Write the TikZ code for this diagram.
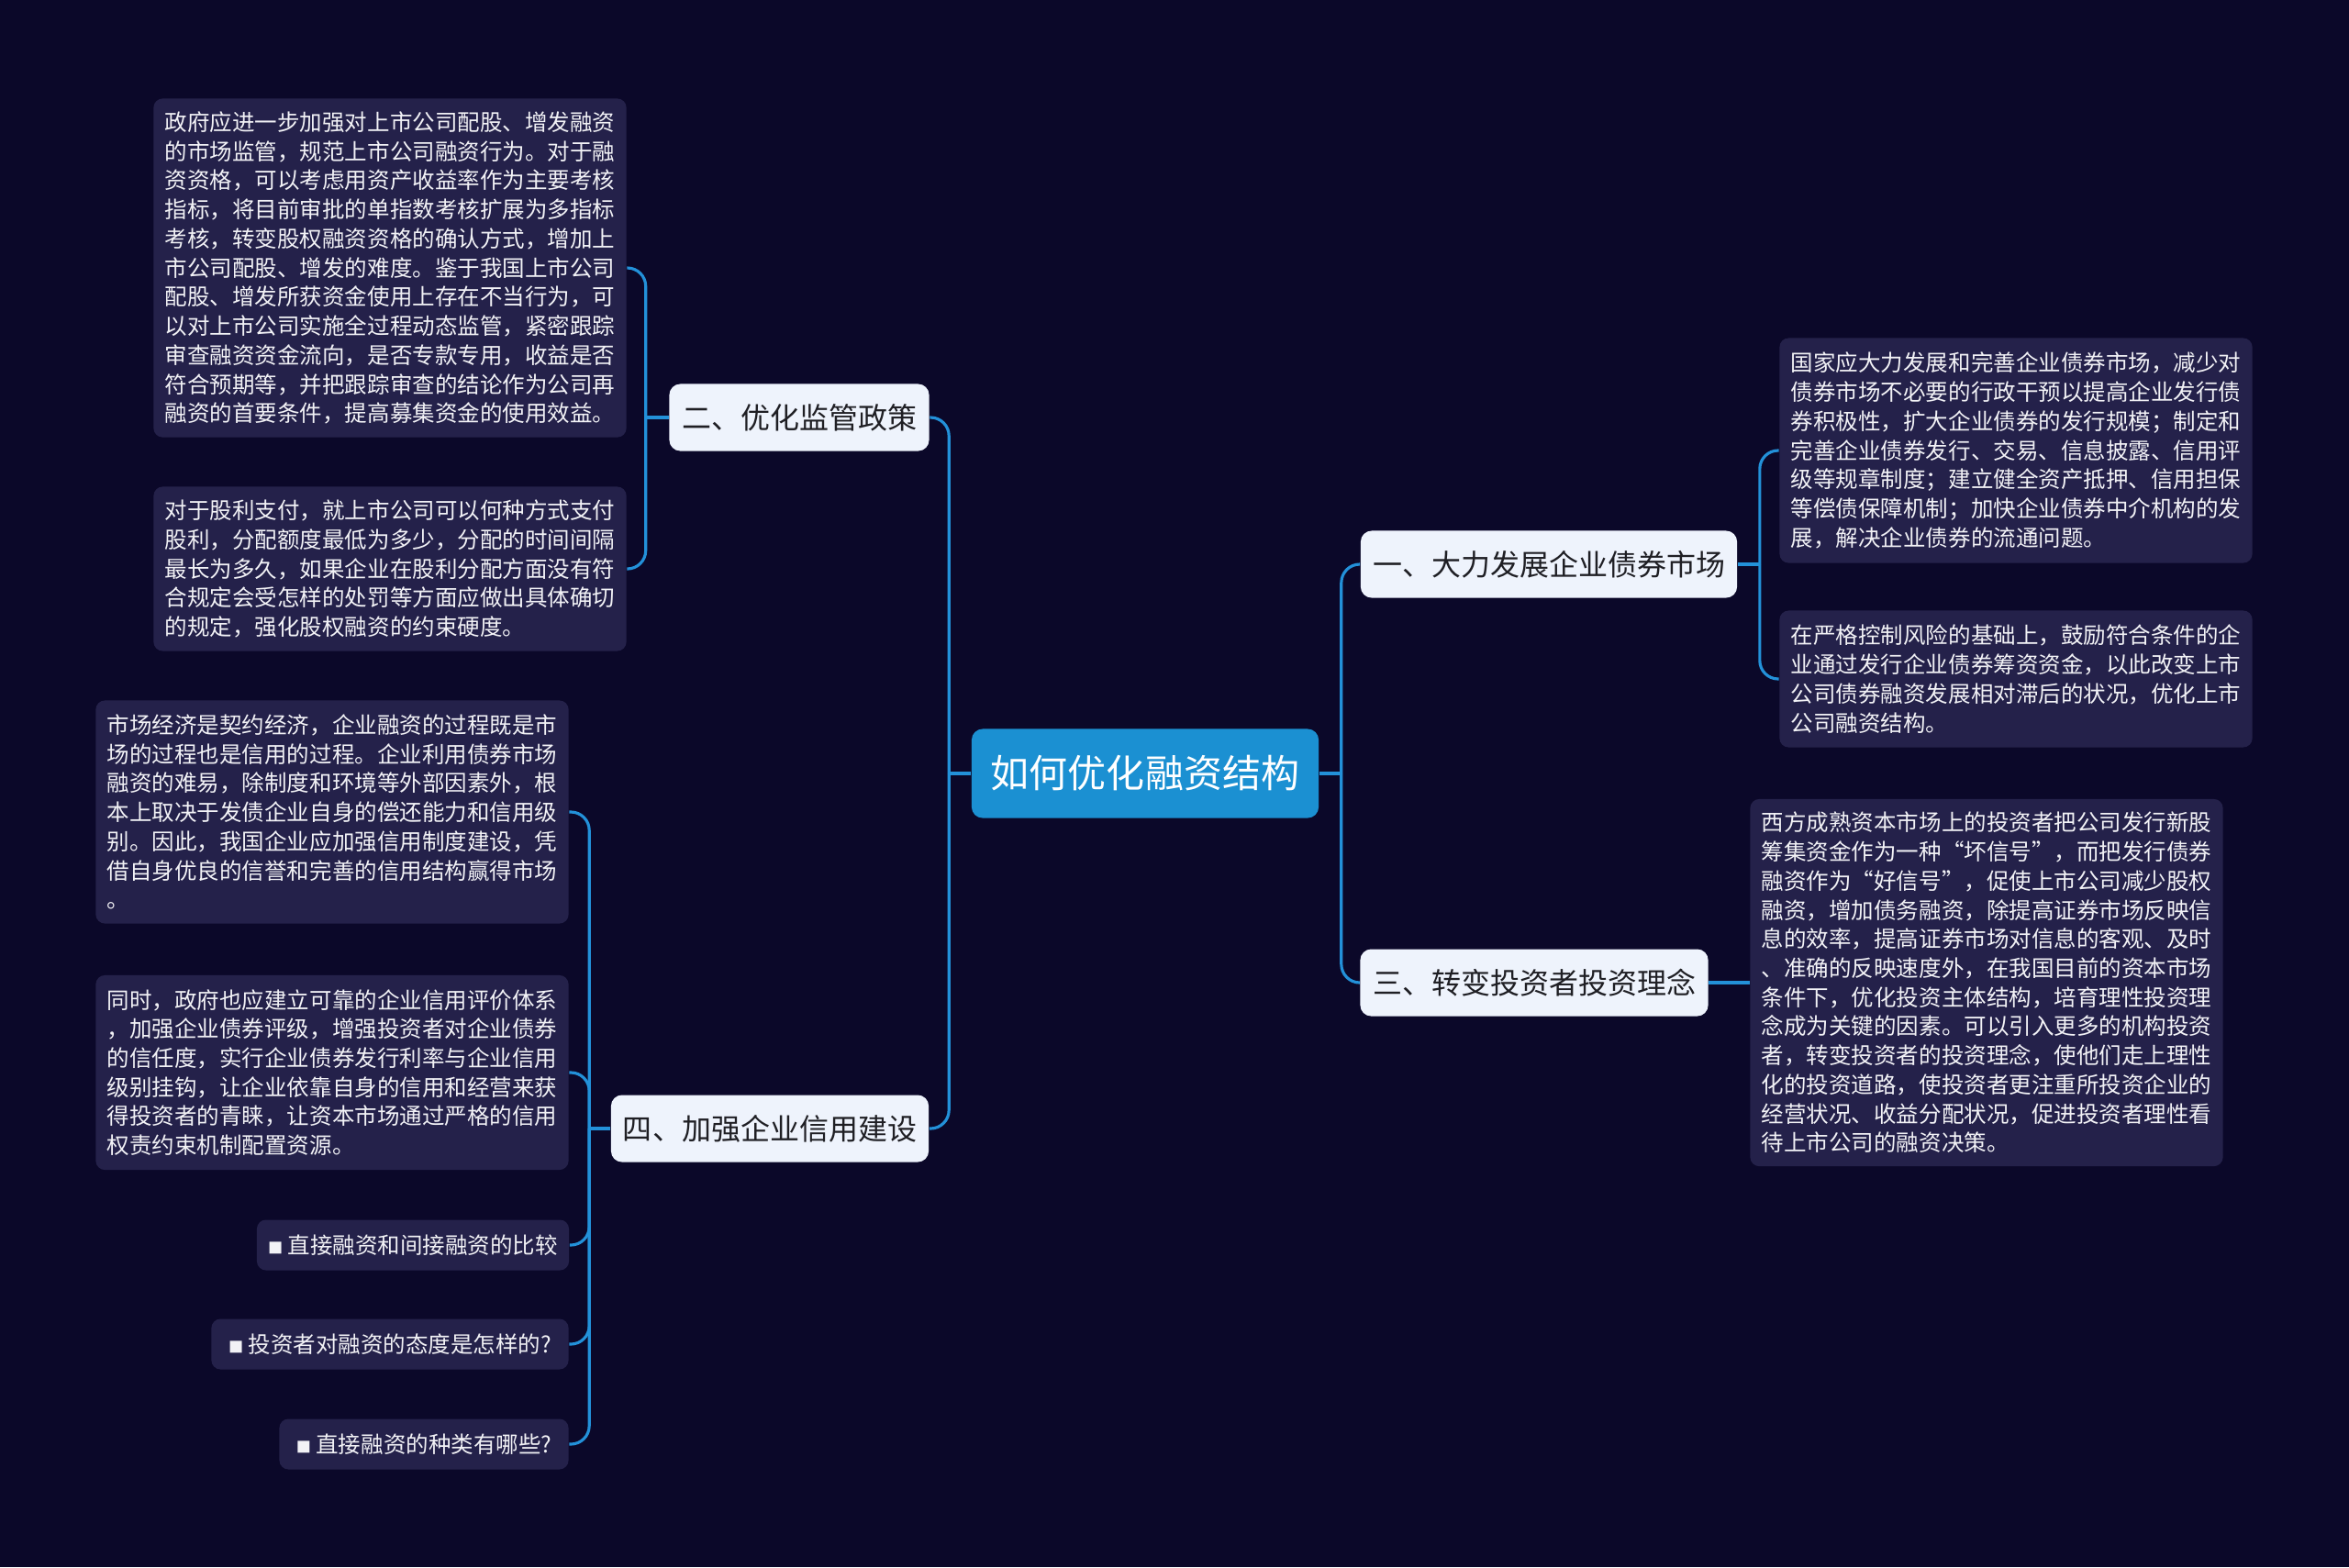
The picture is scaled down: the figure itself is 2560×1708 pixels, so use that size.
\documentclass[tikz,border=0pt]{standalone}
\usepackage{fontspec}
\usetikzlibrary{calc}
\newfontfamily\cjk{Noto Sans CJK SC}
\definecolor{bgnavy}{HTML}{0B0829}
\definecolor{leafcol}{HTML}{24214A}
\definecolor{leaftext}{HTML}{F2F2F6}
\definecolor{branchcol}{HTML}{EEF3FC}
\definecolor{branchtext}{HTML}{1F1F24}
\definecolor{hubcol}{HTML}{1B90D2}
\definecolor{linkcol}{HTML}{2391D9}
\tikzset{
  hub/.style={fill=hubcol, text=white, rounded corners=0.12cm, inner sep=0pt,
    minimum width=3.78cm, minimum height=0.97cm,
    font=\cjk\fontsize{11.95pt}{13pt}\selectfont},
  branchbox/.style={fill=branchcol, text=branchtext, rounded corners=0.12cm, inner sep=0pt,
    minimum height=0.73cm, font=\cjk\fontsize{9.1pt}{10pt}\selectfont},
  leafbox/.style={fill=leafcol, text=leaftext, rounded corners=0.1cm, inner sep=0pt,
    align=left, minimum width=5.15cm, font=\cjk\fontsize{6.97pt}{9.02pt}\selectfont},
  qbox/.style={fill=leafcol, text=leaftext, rounded corners=0.1cm, inner sep=0pt,
    minimum height=0.55cm, font=\cjk\fontsize{6.97pt}{9.02pt}\selectfont},
  linkline/.style={draw=linkcol, line width=0.9pt, rounded corners=0.2cm}
}
\newcommand{\qmark}{{\fontsize{4.6pt}{4.6pt}\selectfont ■}}

\begin{document}
\begin{tikzpicture}[x=0.01cm,y=-0.01cm]
\useasboundingbox (0,0) rectangle (2560,1708);
\fill[bgnavy] (0,0) rectangle (2560,1708);%background

% hub and branches
\node[hub] (c) at (1248,843) {如何优化融资结构};
\node[branchbox, minimum width=2.83cm] (b2) at (871,455) {二、优化监管政策};
\node[branchbox, minimum width=3.46cm] (b4) at (839,1230) {四、加强企业信用建设};
\node[branchbox, minimum width=4.10cm] (b1) at (1688,615) {一、大力发展企业债券市场};
\node[branchbox, minimum width=3.79cm] (b3) at (1672,1071) {三、转变投资者投资理念};

% leaves of b2
\node[leafbox, minimum height=3.69cm] (la) at (425,292) {政府应进一步加强对上市公司配股、增发融资\\
的市场监管，规范上市公司融资行为。对于融\\
资资格，可以考虑用资产收益率作为主要考核\\
指标，将目前审批的单指数考核扩展为多指标\\
考核，转变股权融资资格的确认方式，增加上\\
市公司配股、增发的难度。鉴于我国上市公司\\
配股、增发所获资金使用上存在不当行为，可\\
以对上市公司实施全过程动态监管，紧密跟踪\\
审查融资资金流向，是否专款专用，收益是否\\
符合预期等，并把跟踪审查的结论作为公司再\\
融资的首要条件，提高募集资金的使用效益。};
\node[leafbox, minimum height=1.79cm] (lb) at (425,620) {对于股利支付，就上市公司可以何种方式支付\\
股利，分配额度最低为多少，分配的时间间隔\\
最长为多久，如果企业在股利分配方面没有符\\
合规定会受怎样的处罚等方面应做出具体确切\\
的规定，强化股权融资的约束硬度。};

% leaves of b4
\node[leafbox, minimum height=2.43cm] (lc) at (362,885) {市场经济是契约经济，企业融资的过程既是市\\
场的过程也是信用的过程。企业利用债券市场\\
融资的难易，除制度和环境等外部因素外，根\\
本上取决于发债企业自身的偿还能力和信用级\\
别。因此，我国企业应加强信用制度建设，凭\\
借自身优良的信誉和完善的信用结构赢得市场\\
。};
\node[leafbox, minimum height=2.12cm] (ld) at (362,1169) {同时，政府也应建立可靠的企业信用评价体系\\
，加强企业债券评级，增强投资者对企业债券\\
的信任度，实行企业债券发行利率与企业信用\\
级别挂钩，让企业依靠自身的信用和经营来获\\
得投资者的青睐，让资本市场通过严格的信用\\
权责约束机制配置资源。};
\node[qbox, minimum width=3.40cm] (le) at (450,1357) {\qmark\ 直接融资和间接融资的比较};
\node[qbox, minimum width=3.89cm] (lf) at (425,1465) {\qmark\ 投资者对融资的态度是怎样的?};
\node[qbox, minimum width=3.15cm] (lg) at (462,1574) {\qmark\ 直接融资的种类有哪些?};

% leaves of b1 and b3
\node[leafbox, minimum height=2.45cm] (lh) at (2197,491) {国家应大力发展和完善企业债券市场，减少对\\
债券市场不必要的行政干预以提高企业发行债\\
券积极性，扩大企业债券的发行规模；制定和\\
完善企业债券发行、交易、信息披露、信用评\\
级等规章制度；建立健全资产抵押、信用担保\\
等偿债保障机制；加快企业债券中介机构的发\\
展，解决企业债券的流通问题。};
\node[leafbox, minimum height=1.49cm] (li) at (2197,740) {在严格控制风险的基础上，鼓励符合条件的企\\
业通过发行企业债券筹资资金，以此改变上市\\
公司债券融资发展相对滞后的状况，优化上市\\
公司融资结构。};
\node[leafbox, minimum height=4.00cm] (lj) at (2165,1071) {西方成熟资本市场上的投资者把公司发行新股\\
筹集资金作为一种“坏信号”，而把发行债券\\
融资作为“好信号”，促使上市公司减少股权\\
融资，增加债务融资，除提高证券市场反映信\\
息的效率，提高证券市场对信息的客观、及时\\
、准确的反映速度外，在我国目前的资本市场\\
条件下，优化投资主体结构，培育理性投资理\\
念成为关键的因素。可以引入更多的机构投资\\
者，转变投资者的投资理念，使他们走上理性\\
化的投资道路，使投资者更注重所投资企业的\\
经营状况、收益分配状况，促进投资者理性看\\
待上市公司的融资决策。};

% joints
\coordinate (jl) at ($(c.west)+(-24,0)$);
\coordinate (jr) at ($(c.east)+(24,0)$);
\coordinate (j2) at ($(b2.west)+(-25,0)$);
\coordinate (j4) at ($(b4.west)+(-23,0)$);
\coordinate (j1) at ($(b1.east)+(24,0)$);

% connectors
\draw[linkline] (c.west) -- (jl);
\draw[linkline] (b2.east) -| (jl);
\draw[linkline] (b4.east) -| (jl);
\draw[linkline] (c.east) -- (jr);
\draw[linkline] (b1.west) -| (jr);
\draw[linkline] (b3.west) -| (jr);
\draw[linkline] (b2.west) -- (j2);
\draw[linkline] (la.east) -| (j2);
\draw[linkline] (lb.east) -| (j2);
\draw[linkline] (b4.west) -- (j4);
\foreach \q in {lc,ld,le,lf,lg}
  \draw[linkline] (\q.east) -| (j4);
\draw[linkline] (b1.east) -- (j1);
\draw[linkline] (lh.west) -| (j1);
\draw[linkline] (li.west) -| (j1);
\draw[linkline] (b3.east) -- (lj.west);
\end{tikzpicture}
\end{document}
